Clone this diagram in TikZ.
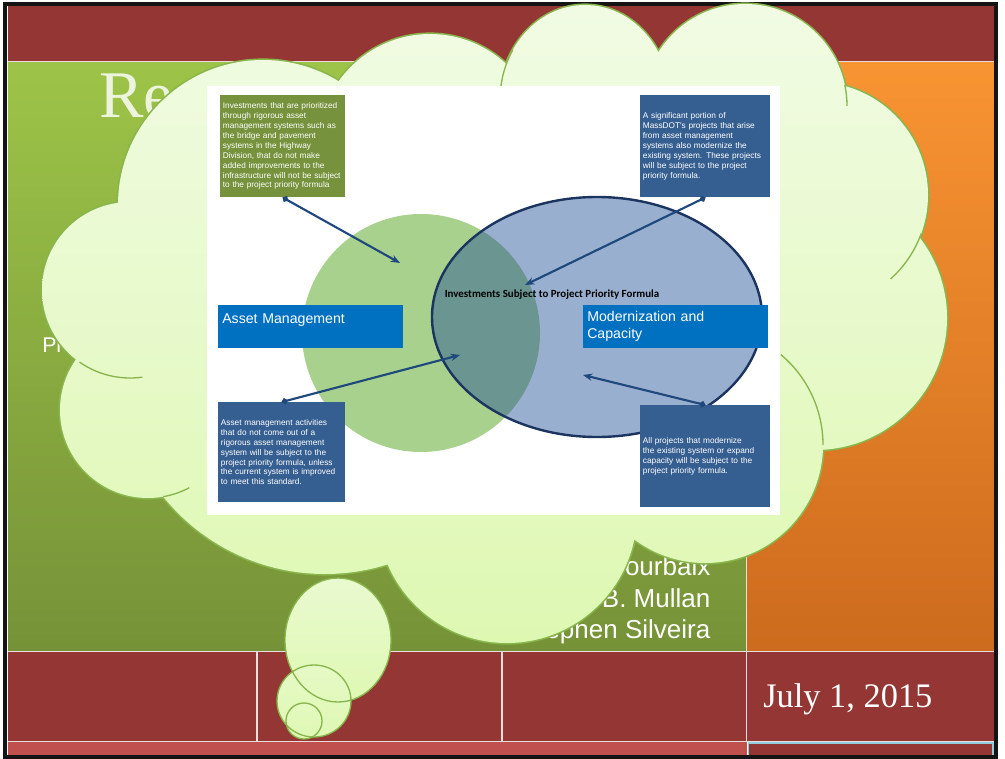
\documentclass[tikz,border=0pt]{standalone}
\usepackage{fontspec}
\setmainfont{Liberation Serif}
\newfontfamily\arialfont{Liberation Sans}
\newfontfamily\calfont{Carlito}
\usepackage{tikz}
\usetikzlibrary{arrows.meta,positioning,shapes.geometric}
\definecolor{slidered}{RGB}{148,54,52}
\definecolor{stripred}{RGB}{192,80,77}
\definecolor{greentop}{RGB}{157,196,72}
\definecolor{greenbot}{RGB}{118,146,56}
\definecolor{orangetop}{RGB}{248,148,50}
\definecolor{orangebot}{RGB}{205,107,30}
\definecolor{seppink}{RGB}{236,222,222}
\definecolor{framegray}{RGB}{20,20,20}
\definecolor{cellblue}{RGB}{146,205,220}
\definecolor{titlepale}{RGB}{236,244,222}
\definecolor{cloudtop}{RGB}{241,251,228}
\definecolor{cloudbot}{RGB}{222,248,178}
\definecolor{cloudedge}{RGB}{136,182,76}
\definecolor{boxolive}{RGB}{118,146,60}
\definecolor{boxblue}{RGB}{54,95,145}
\definecolor{tagblue}{RGB}{0,112,192}
\definecolor{amgreen}{RGB}{169,209,142}
\definecolor{mcblue}{RGB}{31,78,150}
\definecolor{ringnavy}{RGB}{28,52,96}
\definecolor{arrownavy}{RGB}{31,73,125}

\begin{document}
\begin{tikzpicture}[x=0.75pt,y=0.75pt]
  \tikzstyle{note}=[anchor=north west,align=left,text=white,inner xsep=2pt,font=\arialfont\fontsize{6.2}{7.4}\selectfont]
  \tikzstyle{tag}=[anchor=north west,align=left,fill=tagblue,text=white,inner xsep=3pt,inner ysep=3pt,minimum width=138.75pt,minimum height=32.25pt,text width=132.75pt,font=\arialfont\fontsize{10.6}{12.75}\selectfont]
  \tikzstyle{pointer}=[arrownavy,line width=1.6,{Circle[length=4.5pt]}-{Stealth[length=7pt,width=5.5pt]}]
  \tikzstyle{sep}=[draw=seppink,line width=1.3]
  \tikzstyle{lobe}=[draw=cloudedge,line width=1]
  \tikzstyle{names}=[anchor=base east,text=white,font=\arialfont\fontsize{19.5}{20}\selectfont]
  \def\cloudlobes{(263,-205) circle[radius=145] (430,-146) circle[radius=112]
    (585,-100) circle[x radius=85,y radius=95] (745,-106) circle[radius=102]
    (815,-195) circle[radius=113] (815,-318) circle[radius=132]
    (705,-445) circle[radius=118] (507,-513) circle[radius=130]
    (325,-366) circle[radius=208] (148,-410) circle[radius=88]
    (130,-290) circle[radius=88] (495,-300) circle[x radius=280,y radius=210]}

  % slide behind the cloud
  \fill[white] (0,0) rectangle (1005,-759);
  \fill[slidered] (8,-6) rectangle (994,-61);
  \shade[top color=greentop,bottom color=greenbot] (8,-62) rectangle (746,-651);
  \shade[top color=orangetop,bottom color=orangebot] (747,-62) rectangle (994,-651);
  \fill[slidered] (8,-652) rectangle (994,-741);
  \fill[stripred] (8,-742) rectangle (747,-757);
  \draw[cellblue,fill=slidered,line width=1.2] (748.5,-743) rectangle (993,-758);
  \draw[sep] (8,-61.5) -- (994,-61.5);
  \draw[sep] (8,-651.5) -- (994,-651.5);
  \draw[sep] (8,-741.5) -- (994,-741.5);
  \draw[sep] (746.5,-62) -- (746.5,-741);
  \draw[sep] (257,-652) -- (257,-741);
  \draw[sep] (502,-652) -- (502,-741);
  \draw[framegray,line width=3] (5,-4) rectangle (996,-757);

  \node[anchor=base west,text=titlepale,inner sep=0,font=\fontsize{50}{50}\selectfont] (title) at (99,-118) {Re};
  \node[anchor=base west,text=white,inner sep=0,font=\arialfont\fontsize{16}{16}\selectfont] (sub) at (42,-352) {Pr};
  \node[names] (name1) at (715,-575) {ourbaix};
  \node[names] (name2) at (715,-607) {B. Mullan};
  \node[names] (name3) at (715,-638) {ephen Silveira};
  \node[anchor=base west,text=white,inner sep=0,font=\fontsize{25.8}{26}\selectfont] (date) at (763,-707) {July 1, 2015};

  % thought cloud
  \draw[cloudedge,line width=2.4] \cloudlobes;
  \shade[top color=cloudtop,bottom color=cloudbot] \cloudlobes;
  \draw[lobe] (130,-290) ++(235:88) arc[start angle=235,end angle=278,radius=88];
  \draw[lobe] (148,-410) ++(-80:88) arc[start angle=-80,end angle=-62,radius=88];
  \draw[lobe] (585,-100) ++(148:85 and 95) arc[start angle=148,end angle=172,x radius=85,y radius=95];
  \draw[lobe] (745,-106) ++(12:102) arc[start angle=12,end angle=0,radius=102];
  \draw[lobe] (815,-195) ++(-20:113) arc[start angle=-20,end angle=-48,radius=113];
  \draw[lobe] (705,-445) ++(50:118) arc[start angle=50,end angle=0,radius=118];

  % tail bubbles
  \shade[top color=cloudtop!60!cloudbot,bottom color=cloudbot] (338,-640) circle[x radius=53,y radius=62];
  \shade[top color=cloudtop!40!cloudbot,bottom color=cloudbot] (314,-701) circle[x radius=37,y radius=36];
  \shade[top color=cloudtop!30!cloudbot,bottom color=cloudbot] (304,-721) circle[x radius=18,y radius=18];
  \draw[lobe] (338,-640) circle[x radius=53,y radius=62];
  \draw[lobe] (314,-701) circle[x radius=37,y radius=36];
  \draw[lobe] (304,-721) circle[x radius=18,y radius=18];

  % picture inside the cloud
  \fill[white] (207,-86) rectangle (780,-515);
  \fill[amgreen] (421,-333) circle[radius=119];
  \filldraw[fill=mcblue,fill opacity=0.45,draw=ringnavy,line width=1.8] (597,-317) circle[x radius=165,y radius=120];
  \node[font=\calfont\bfseries\fontsize{8.2}{9}\selectfont] (core) at (552,-295) {Investments Subject to Project Priority Formula};

  \node[note,fill=boxolive,minimum width=93.75pt,minimum height=76.5pt,text width=89.75pt] (tl) at (220,-95)
    {Investments that are prioritized\\through rigorous asset\\management systems such as\\the bridge and pavement\\systems in the Highway\\Division, that do not make\\added improvements to the\\infrastructure will not be subject\\to the project priority formula};
  \node[note,fill=boxblue,minimum width=97.5pt,minimum height=76.5pt,text width=93.5pt] (tr) at (640,-95)
    {A significant portion of\\MassDOT's projects that arise\\from asset management\\systems also modernize the\\existing system. These projects\\will be subject to the project\\priority formula.};
  \node[note,fill=boxblue,minimum width=95.25pt,minimum height=75pt,text width=91.25pt] (bl) at (218,-402)
    {Asset management activities\\that do not come out of a\\rigorous asset management\\system will be subject to the\\project priority formula, unless\\the current system is improved\\to meet this standard.};
  \node[note,fill=boxblue,minimum width=97.5pt,minimum height=76.5pt,text width=93.5pt] (br) at (640,-405)
    {All projects that modernize\\the existing system or expand\\capacity will be subject to the\\project priority formula.};

  \node[tag] (am) at (218,-305) {Asset Management\\\mbox{}};
  \node[tag] (mc) at (583,-305) {Modernization and\\Capacity};

  \coordinate (amtip) at (400,-263);
  \coordinate (coretip) at (525,-285);
  \coordinate (lenstip) at (460,-355);
  \coordinate (mctip) at (583,-375);
  \draw[pointer] (tl.south) -- (amtip);
  \draw[pointer] (tr.south) -- (coretip);
  \draw[pointer] (bl.north) -- (lenstip);
  \draw[pointer] (br.north) -- (mctip);
\end{tikzpicture}
\end{document}
